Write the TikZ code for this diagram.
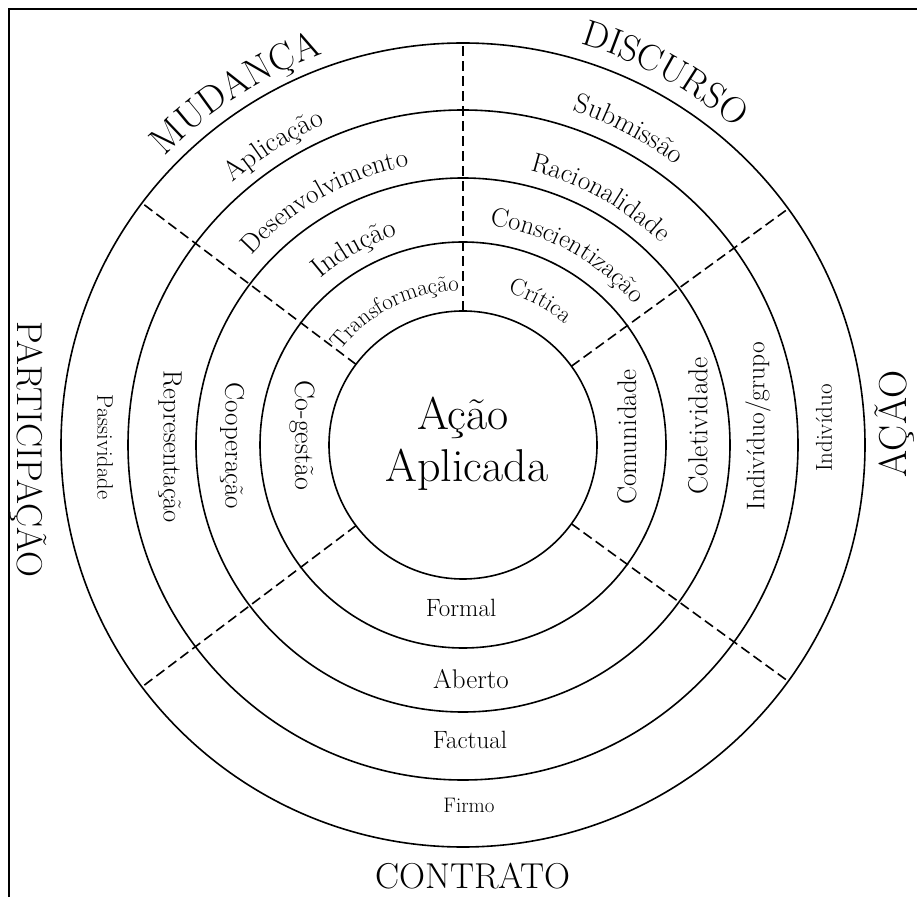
\documentclass[tikz,border=0pt]{standalone}
\usepackage{fontspec}
\usetikzlibrary{decorations.text}
\newcommand{\mkarclabel}[4]{%
  \path[decorate, decoration={text along path, text align=center,
      text={|\fontsize{#1pt}{#1pt}\selectfont|#4}}]
    ({#2+40}:#3) arc[start angle={#2+40}, end angle={#2-40}, radius=#3];}
\begin{document}
\begin{tikzpicture}[x=1pt,y=1pt,
  ringnode/.style={draw, circle, line width=1.6pt, inner sep=0pt, outer sep=0pt},
  divider/.style={line width=1.6pt, dash pattern=on 10pt off 5pt},
  frameline/.style={line width=2pt},
  lbl/.style={inner sep=0pt},
  fs/.style={font=\fontsize{#1pt}{#1pt}\selectfont},
]
\useasboundingbox (0,0) rectangle (917,897);
\coordinate (fbl) at (9,0);
\coordinate (ftl) at (9,888);
\coordinate (ftr) at (917,888);
\draw[frameline] (fbl) -- (ftl) -- (ftr);

\begin{scope}[shift={(463,452)}]
\coordinate (C) at (0,0);
\node[ringnode, minimum size=268pt] (c1) at (C) {};
\node[ringnode, minimum size=406pt] (c2) at (C) {};
\node[ringnode, minimum size=534pt] (c3) at (C) {};
\node[ringnode, minimum size=670pt] (c4) at (C) {};
\node[ringnode, minimum size=804pt] (c5) at (C) {};
\draw[divider] (c1.90) -- (c5.90);
\draw[divider] (c1.36.8) -- (c5.36.8);
\draw[divider] (c1.143.2) -- (c5.143.2);
\draw[divider] (c1.-36.8) -- (c5.-36.8);
\draw[divider] (c1.-143.2) -- (c5.-143.2);

% curved labels (top sectors)
\mkarclabel{38}{122.8}{415}{MUDANÇA}
\mkarclabel{37}{61.5}{418}{DISCURSO}
\mkarclabel{28}{122.3}{349}{Aplicação}
\mkarclabel{27}{119.5}{284}{Desenvolvimento}
\mkarclabel{28}{119}{219.5}{Indução}
\mkarclabel{23}{117}{154.5}{Transformação}
\mkarclabel{28}{62.3}{352}{Submissão}
\mkarclabel{27}{60.9}{282.5}{Racionalidade}
\mkarclabel{26.5}{61.2}{221}{Conscientização}
\mkarclabel{24}{61.7}{158.5}{Crítica}
\end{scope}

% centre
\node[lbl, fs=46, anchor=base] (acao) at (463,467) {Ação};
\node[lbl, fs=46, anchor=base] (aplicada) at (467,415) {Aplicada};

% left sector
\node[lbl, fs=36, rotate=-90] (participacao) at (29,448) {PARTICIPAÇÃO};
\node[lbl, fs=28, rotate=-90] (cogestao) at (302,462) {Co-gestão};
\node[lbl, fs=27, rotate=-90] (cooperacao) at (232,451) {Cooperação};
\node[lbl, fs=26.5, rotate=-90] (representacao) at (170,450) {Representação};
\node[lbl, fs=22.5, rotate=-90] (passividade) at (105,450) {Passividade};

% right sector
\node[lbl, fs=39, rotate=90] (acaoout) at (895,473) {AÇÃO};
\node[lbl, fs=27, rotate=90] (comunidade) at (627,460) {Comunidade};
\node[lbl, fs=27.5, rotate=90] (coletividade) at (698,471) {Coletividade};
\node[lbl, fs=25.5, rotate=90] (indgrupo) at (758,471) {Indivíduo/grupo};
\node[lbl, fs=23, rotate=90] (individuo) at (824,469) {Indivíduo};

% bottom sector
\node[lbl, fs=25, anchor=base] (formal) at (461,280) {Formal};
\node[lbl, fs=27, anchor=base] (aberto) at (471,209) {Aberto};
\node[lbl, fs=25, anchor=base] (factual) at (470,149) {Factual};
\node[lbl, fs=21, anchor=base] (firmo) at (469,85) {Firmo};
\node[lbl, fs=36, anchor=base] (contrato) at (473,9) {CONTRATO};
\end{tikzpicture}
\end{document}
